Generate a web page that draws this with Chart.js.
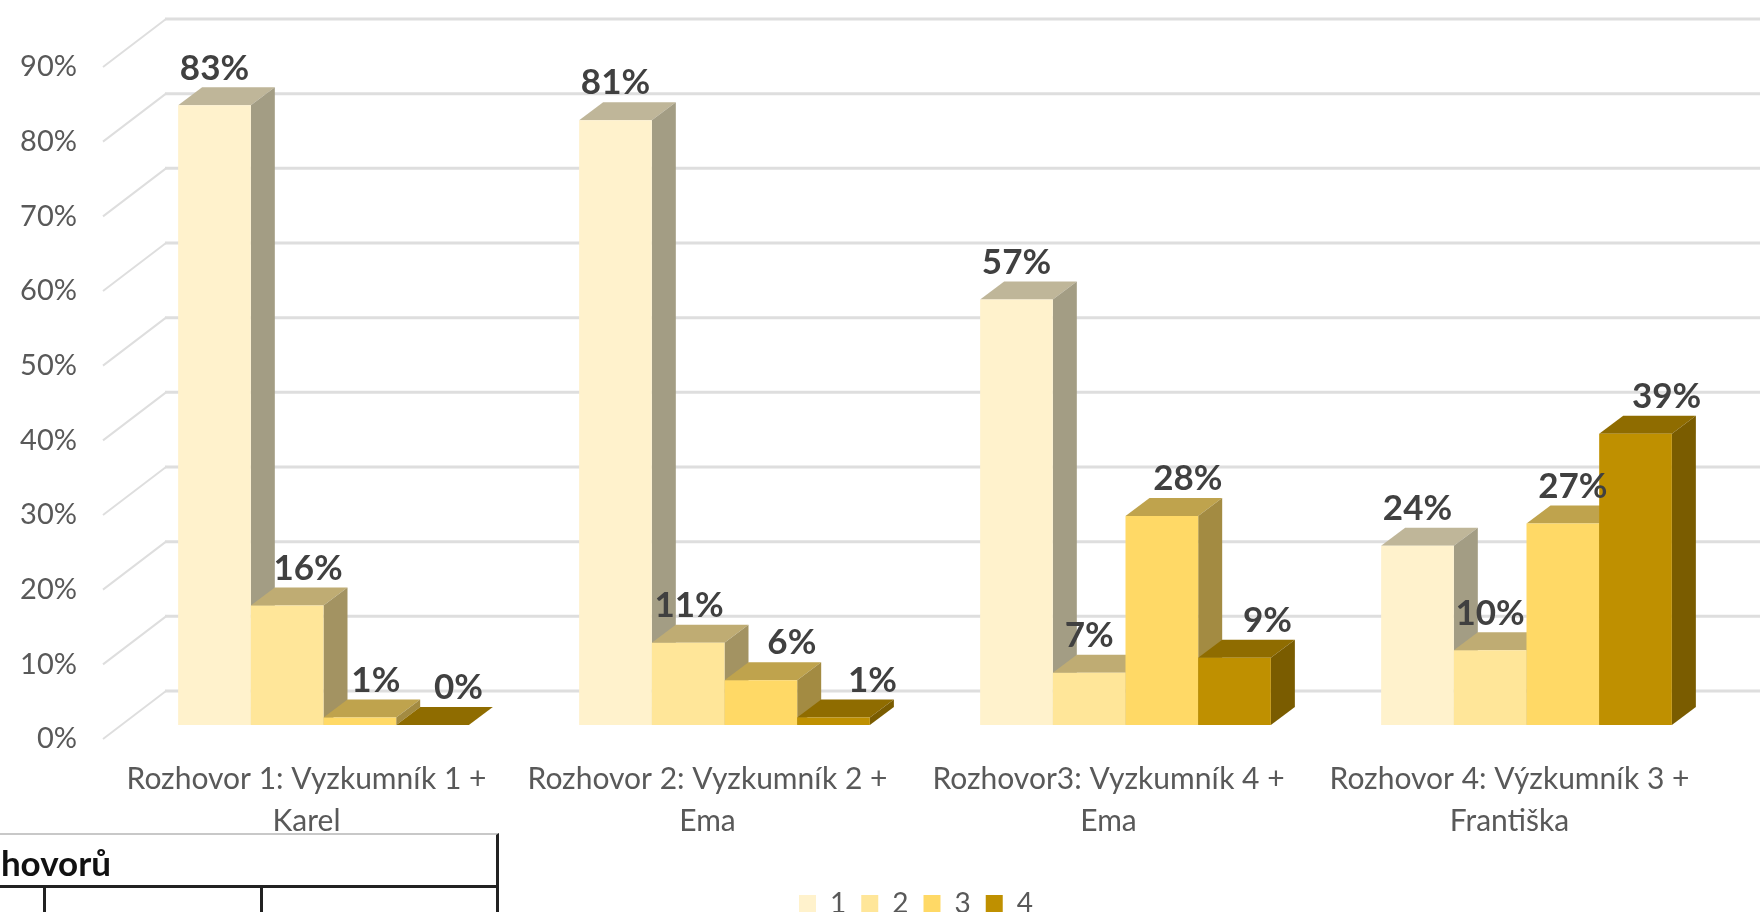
<!DOCTYPE html>
<html>
<head>
<meta charset="utf-8">
<title>Rozhovory</title>
<script src="https://cdn.jsdelivr.net/npm/chart.js@4"></script>
<style>
  html, body { margin: 0; padding: 0; background: #fff; overflow: hidden; }
  #wrap { position: relative; width: 1760px; height: 912px; overflow: hidden; }
  canvas { display: block; }
  #tableBit { position: absolute; left: -4px; top: 833px; width: 500px; height: 90px;
    border-top: 2px solid #c8c8c8; border-right: 3px solid #222; font: bold 35px Lato, sans-serif; color: #111; }
  #tableBit .head { position: absolute; right: 385px; top: 6px; }
  #tableBit .rule { position: absolute; left: 0; right: 0; top: 50px; border-top: 3px solid #222; }
  #tableBit .col { position: absolute; top: 50px; bottom: 0; border-left: 3px solid #222; }
</style>
</head>
<body>
<div id="wrap">
  <canvas id="chart" width="1760" height="912"></canvas>
  <div id="tableBit">
    <div class="head">hovorů</div>
    <div class="rule"></div>
    <div class="col" style="left:47px"></div>
    <div class="col" style="left:264px"></div>
  </div>
</div>
<script>
const categories = [
    ['Rozhovor 1: Vyzkumník 1 +', 'Karel'],
    ['Rozhovor 2: Vyzkumník 2 +', 'Ema'],
    ['Rozhovor3: Vyzkumník 4 +', 'Ema'],
    ['Rozhovor 4: Výzkumník 3 +', 'Františka']
];
const seriesNames = ['1', '2', '3', '4'];
const series1 = [83, 81, 57, 24];
const series2 = [16, 11, 7, 10];
const series3 = [1, 6, 28, 27];
const series4 = [0, 1, 9, 39];
const yTicks = [0, 10, 20, 30, 40, 50, 60, 70, 80, 90];

const frontColors = ['#FFF2CC', '#FFE699', '#FFD966', '#BF9000'];
const topColors = ['#BFB699', '#BFAC73', '#BFA34D', '#8F6C00'];
const sideColors = ['#A39D84', '#A39362', '#A38B42', '#7A5C00'];
// how far each data label sits right of its bar centre, per series
const labelShifts = [
    [0, 0, 0, 0],
    [21, 1, 0, 0],
    [16, 31, 26, 10],
    [26, 39, 33, 31]
];

const depthX = 24, depthY = 18;     // bar depth
const shiftX = 17, shiftY = -14;    // bars stand behind the axis labels

const depth3d = {
    id: 'depth3d',
    afterLayout(chart) {
        // nudge the legend, its padding can't do this on its own
        chart.legend.top += 16;
        chart.legend.bottom += 16;
        chart.legend.left += 8;
        chart.legend.right += 8;
    },
    beforeDatasetsDraw(chart) {
        const { ctx, scales: { y } } = chart;
        ctx.save();
        ctx.strokeStyle = '#DEDEDE';
        yTicks.forEach(t => {
            const wall = y.getPixelForValue(t) - 48;
            ctx.lineWidth = 2;
            ctx.beginPath();
            ctx.moveTo(103, wall + 48);
            ctx.lineTo(166, wall);
            ctx.stroke();
            ctx.lineWidth = 3;
            ctx.beginPath();
            ctx.moveTo(165, wall);
            ctx.lineTo(1760, wall);
            ctx.stroke();
        });
        ctx.restore();
    },
    beforeDatasetDraw() {
        return false;   // bars are painted left to right below
    },
    afterDatasetsDraw(chart) {
        const { ctx } = chart;
        ctx.save();
        ctx.translate(shiftX, shiftY);
        chart.data.datasets.forEach((ds, i) => {
            chart.getDatasetMeta(i).data.forEach(bar => {
                const x0 = bar.x - bar.width / 2;
                const x1 = bar.x + bar.width / 2;
                ctx.fillStyle = topColors[i];
                ctx.beginPath();
                ctx.moveTo(x0, bar.y);
                ctx.lineTo(x0 + depthX, bar.y - depthY);
                ctx.lineTo(x1 + depthX, bar.y - depthY);
                ctx.lineTo(x1, bar.y);
                ctx.fill();
                ctx.fillStyle = sideColors[i];
                ctx.beginPath();
                ctx.moveTo(x1, bar.y);
                ctx.lineTo(x1 + depthX, bar.y - depthY);
                ctx.lineTo(x1 + depthX, bar.base - depthY);
                ctx.lineTo(x1, bar.base);
                ctx.fill();
                bar.draw(ctx);
            });
        });
        ctx.font = 'bold 35px Lato, sans-serif';
        ctx.fillStyle = '#404040';
        ctx.textAlign = 'center';
        ctx.textBaseline = 'middle';
        chart.data.datasets.forEach((ds, i) => {
            chart.getDatasetMeta(i).data.forEach((bar, j) => {
                ctx.fillText(ds.data[j] + '%', bar.x + labelShifts[i][j], bar.y - 37);
            });
        });
        ctx.restore();
    }
};

const seriesValues = [series1, series2, series3, series4];

new Chart(document.getElementById('chart'), {
    type: 'bar',
    data: {
        labels: categories,
        datasets: seriesNames.map((name, i) => ({
            label: name,
            data: seriesValues[i],
            backgroundColor: frontColors[i],
            borderWidth: 0,
            categoryPercentage: 0.725,
            barPercentage: 1
        }))
    },
    plugins: [depth3d],
    options: {
        responsive: false,
        animation: false,
        devicePixelRatio: 1,
        layout: { padding: { top: 67, right: 50 } },
        plugins: {
            tooltip: { enabled: false },
            legend: {
                position: 'bottom',
                fullSize: false,
                labels: {
                    boxWidth: 17,
                    boxHeight: 18,
                    padding: 15,
                    color: '#595959',
                    font: { family: 'Lato', size: 28 }
                }
            }
        },
        scales: {
            x: {
                grid: { display: false },
                border: { display: false },
                ticks: {
                    color: '#595959',
                    font: { family: 'Lato', size: 30, lineHeight: 1.38 },
                    maxRotation: 0,
                    autoSkip: false,
                    padding: 12
                },
                afterFit(scale) { scale.height = 120; }
            },
            y: {
                min: 0,
                max: 90,
                grid: { display: false },
                border: { display: false },
                ticks: {
                    stepSize: 10,
                    padding: 21,
                    color: '#595959',
                    font: { family: 'Lato', size: 29 },
                    callback: v => v + '%'
                },
                afterFit(scale) { scale.width = 106; }
            }
        }
    }
});
</script>
</body>
</html>
